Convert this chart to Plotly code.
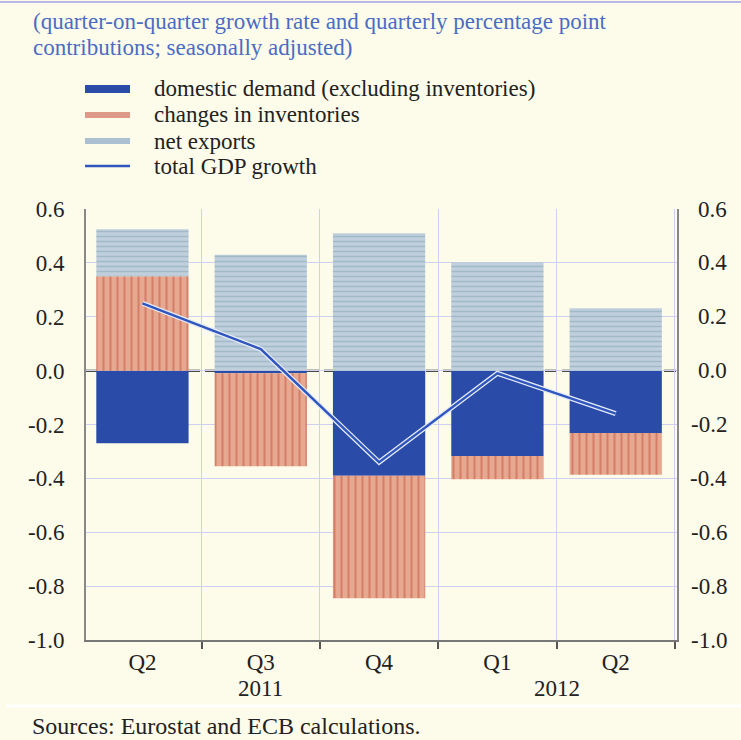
import plotly.graph_objects as go

quarters = ["Q2", "Q3", "Q4", "Q1", "Q2"]
years = ["2011", "2012"]
domestic = [-0.27, -0.01, -0.39, -0.317, -0.232]
inventories = [0.35, -0.345, -0.455, -0.086, -0.155]
net_exports = [0.175, 0.43, 0.51, 0.402, 0.232]
gdp = [0.25, 0.08, -0.34, -0.01, -0.16]
y_ticks = [0.6, 0.4, 0.2, 0.0, -0.2, -0.4, -0.6, -0.8, -1.0]
y_ticktext = ["0.6", "0.4", "0.2", "0.0", "-0.2", "-0.4", "-0.6", "-0.8", "-1.0"]
legend_names = ["domestic demand (excluding inventories)", "changes in inventories",
                "net exports", "total GDP growth"]
title_lines = ["(quarter-on-quarter growth rate and quarterly percentage point",
               "contributions; seasonally adjusted)"]
source_text = "Sources: Eurostat and ECB calculations."

W, H = 741, 740
L, R, T, B = 86, 64, 209, 100
PW, PH = W - L - R, H - T - B


def px(x):
    return (x - L) / PW


def py(y):
    return (H - B - y) / PH


BG = "#fdfcea"
BLUE = "#2a4ca8"
FONT = "Liberation Serif"
FS = 23
TXT = "#222222"
x = list(range(len(quarters)))

fig = go.Figure()
fig.add_trace(go.Bar(x=x, y=domestic, name=legend_names[0], width=0.78,
                     marker=dict(color=BLUE, line=dict(width=0))))
fig.add_trace(go.Bar(x=x, y=inventories, name=legend_names[1], width=0.78,
                     marker=dict(color="#c9604c", line=dict(width=0),
                                 pattern=dict(shape="|", bgcolor="#e6a891", fgcolor="#c4553f",
                                              size=7, solidity=0.3))))
fig.add_trace(go.Bar(x=x, y=net_exports, name=legend_names[2], width=0.78,
                     marker=dict(color="#8aa6b8", line=dict(width=0),
                                 pattern=dict(shape="-", bgcolor="#bfcfdb", fgcolor="#86a3b6",
                                              size=5, solidity=0.3))))
fig.add_trace(go.Scatter(x=x, y=gdp, mode="lines", line=dict(color="#e4eaf6", width=5),
                         showlegend=False, hoverinfo="skip"))
fig.add_trace(go.Scatter(x=x, y=gdp, mode="lines", name=legend_names[3],
                         line=dict(color="#2f55bf", width=2.4)))

axis_font = dict(family=FONT, size=FS, color=TXT)
fig.update_layout(
    width=W, height=H,
    margin=dict(l=L, r=R, t=T, b=B),
    paper_bgcolor=BG, plot_bgcolor=BG,
    barmode="relative",
    showlegend=False,
    font=dict(family=FONT, size=FS, color=TXT),
    xaxis=dict(range=[-0.477, 4.518], tickvals=x, ticktext=quarters, showgrid=False,
               zeroline=False, ticks="", tickfont=axis_font, ticklabelstandoff=0,
               showline=True, linecolor="#777777", linewidth=2,
               minor=dict(tickmode="linear", tick0=0.5, dtick=1, showgrid=True,
                          gridcolor="#cfcff0", gridwidth=1, ticks="outside",
                          ticklen=7, tickcolor="#555555", tickwidth=2)),
    yaxis=dict(range=[-1.0, 0.6], tickvals=y_ticks, ticktext=y_ticktext,
               showgrid=True, gridcolor="#cfcff0", gridwidth=1, zeroline=False,
               showline=True, mirror=True, linecolor="#888888", linewidth=2, ticks="",
               tickfont=axis_font, ticklabelstandoff=15),
)

# zero line (dashed)
fig.add_shape(type="line", xref="paper", yref="y", x0=0, x1=1, y0=0, y1=0,
              line=dict(color="#111111", width=2, dash="12px,5px"), layer="below")

# top border line and separator
fig.add_shape(type="line", xref="paper", yref="paper", x0=px(0), x1=px(W), y0=py(2), y1=py(2),
              line=dict(color="#b8b8e8", width=2))
fig.add_shape(type="line", xref="paper", yref="paper", x0=px(6), x1=px(W), y0=py(706), y1=py(706),
              line=dict(color="#ffffff", width=3))

# right-side tick labels (right aligned like the reference)
for v, t in zip(y_ticks, y_ticktext):
    fig.add_annotation(xref="paper", yref="y", x=px(729), y=v, xanchor="right",
                       yanchor="middle", showarrow=False, text=t, font=axis_font)

# title
for line, yy in zip(title_lines, [21, 47]):
    fig.add_annotation(xref="paper", yref="paper", x=px(31), y=py(yy), xanchor="left",
                       yanchor="middle", showarrow=False, text=line,
                       font=dict(family=FONT, size=FS, color="#4a6cc4"))

# legend
rows = [89, 115, 141, 166]
fig.add_shape(type="rect", xref="paper", yref="paper", x0=px(85), x1=px(130),
              y0=py(rows[0] - 4), y1=py(rows[0] + 4), fillcolor=BLUE, line=dict(width=0))
fig.add_shape(type="rect", xref="paper", yref="paper", x0=px(85), x1=px(130),
              y0=py(rows[1] - 3), y1=py(rows[1] + 3), fillcolor="#dd9a88", line=dict(width=0))
fig.add_shape(type="rect", xref="paper", yref="paper", x0=px(85), x1=px(130),
              y0=py(rows[2] - 3), y1=py(rows[2] + 3), fillcolor="#aabfcf", line=dict(width=0))
fig.add_shape(type="line", xref="paper", yref="paper", x0=px(85), x1=px(130),
              y0=py(rows[3]), y1=py(rows[3]), line=dict(color="#2f55bf", width=2.5))
for name, r in zip(legend_names, rows):
    fig.add_annotation(xref="paper", yref="paper", x=px(152), y=py(r), xanchor="left",
                       yanchor="middle", showarrow=False, text=name,
                       font=dict(family=FONT, size=FS, color=TXT))

# year labels
fig.add_annotation(xref="x", yref="paper", x=1, y=py(688), yanchor="middle", showarrow=False,
                   text=years[0], font=axis_font)
fig.add_annotation(xref="x", yref="paper", x=3.5, y=py(688), yanchor="middle", showarrow=False,
                   text=years[1], font=axis_font)

# sources
fig.add_annotation(xref="paper", yref="paper", x=px(30), y=py(726), xanchor="left",
                   yanchor="middle", showarrow=False, text=source_text,
                   font=dict(family=FONT, size=FS + 1, color=TXT))

fig.write_html("out.html", config={"displayModeBar": False},
               post_script="document.body.style.margin='0';document.body.style.padding='0';")
